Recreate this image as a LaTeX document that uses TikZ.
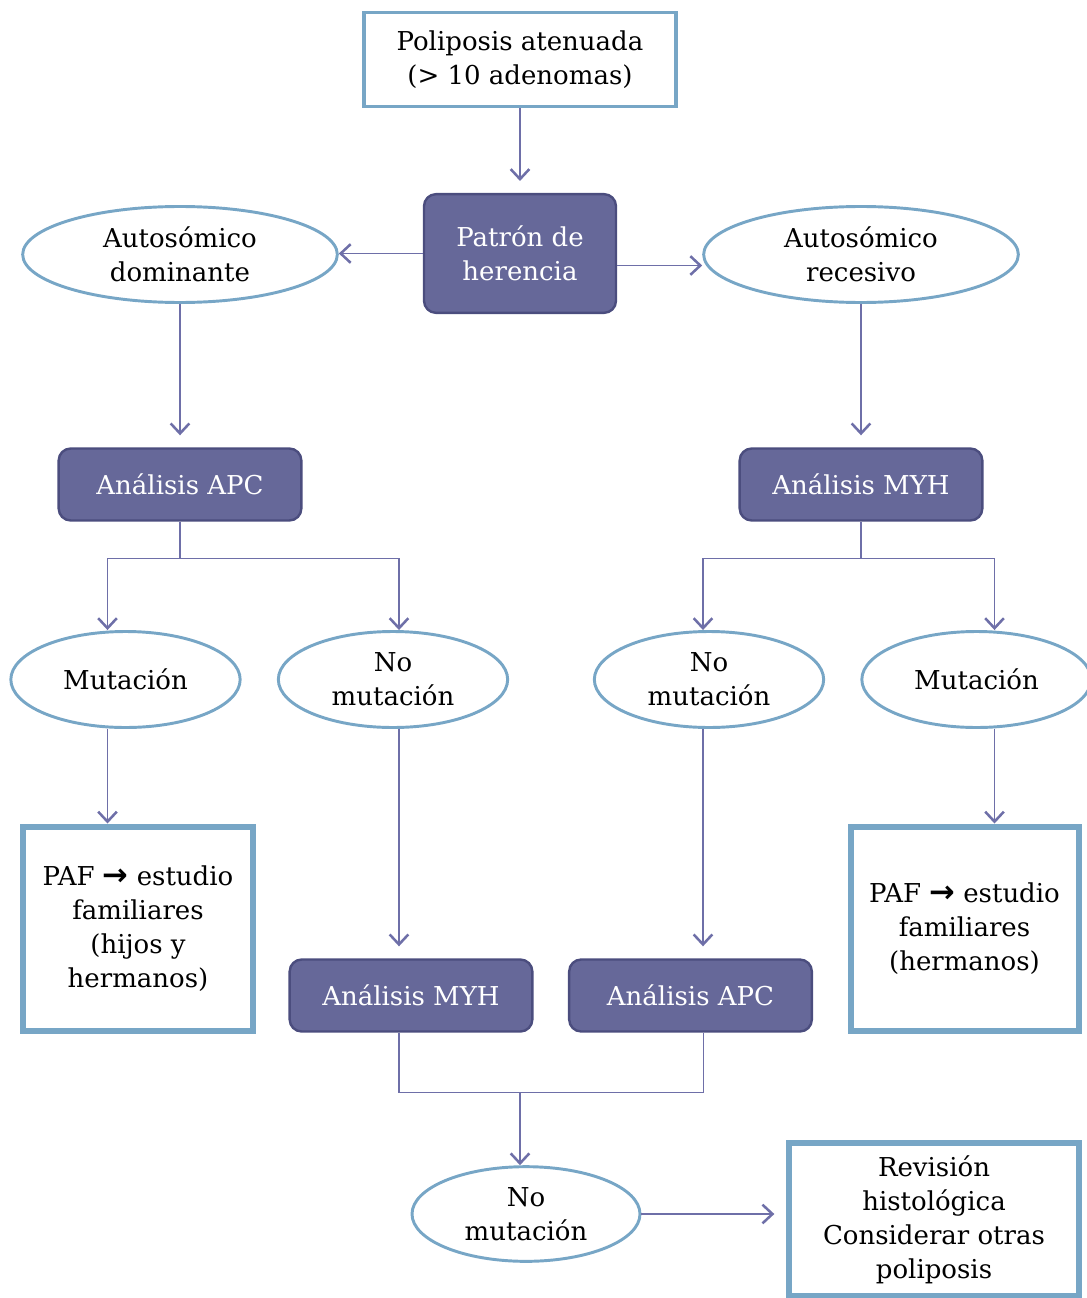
\documentclass[tikz,border=0pt]{standalone}
\usepackage{fontspec}
\setmainfont{DejaVu Serif}
\newfontfamily\arrowfont{DejaVu Sans}
\usetikzlibrary{arrows.meta,shapes.geometric}

\definecolor{edgeblue}{RGB}{119,166,198}
\definecolor{boxfill}{RGB}{102,104,153}
\definecolor{boxedge}{RGB}{75,77,126}
\definecolor{linkcol}{RGB}{110,111,168}

\newcommand{\boldarrow}{{\arrowfont\bfseries\fontsize{23}{25.5}\selectfont →}}

\tikzset{
  txt/.style={font=\fontsize{19.5}{25.5}\selectfont, align=center, inner sep=0pt},
  plainbox/.style={txt, rectangle, draw=edgeblue, line width=2.4pt, fill=white},
  thickbox/.style={txt, rectangle, draw=edgeblue, line width=4.5pt, fill=white},
  darkbox/.style={txt, rectangle, rounded corners=9pt, draw=boxedge, line width=1.8pt,
    fill=boxfill, text=white},
  oval/.style={txt, ellipse, draw=edgeblue, line width=2.2pt, fill=white},
  link/.style={draw=linkcol, line width=1.15pt},
  conn/.style={link, -{Straight Barb[length=7.5pt,width=14pt,line width=1.9pt]}},
  gap/.style={shorten >=9pt}
}

\begin{document}
\begin{tikzpicture}[x=0.75pt,y=-0.75pt]
\useasboundingbox (0,0) rectangle (1086,1298);

% nodes
\node[plainbox, minimum width=234pt, minimum height=71pt] (top) at (520,59.5)
  {Poliposis atenuada\\(> 10 adenomas)};
\node[darkbox, minimum width=144pt, minimum height=89pt] (pat) at (520,253.5)
  {Patrón de\\herencia};
\node[oval, minimum width=236pt, minimum height=72pt] (ad) at (180,254.5)
  {Autosómico\\dominante};
\node[oval, minimum width=236pt, minimum height=72pt] (ar) at (861,254.5)
  {Autosómico\\recesivo};
\node[darkbox, minimum width=182pt, minimum height=54pt] (apcA) at (180,484.5)
  {Análisis APC};
\node[darkbox, minimum width=182pt, minimum height=54pt] (myhA) at (861,484.5)
  {Análisis MYH};
\node[oval, minimum width=172pt, minimum height=72pt] (mutL) at (125.5,679.5)
  {Mutación};
\node[oval, minimum width=172pt, minimum height=72pt] (nmL) at (393,679.5)
  {No\\mutación};
\node[oval, minimum width=172pt, minimum height=72pt] (nmR) at (709,679.5)
  {No\\mutación};
\node[oval, minimum width=172pt, minimum height=72pt] (mutR) at (976.5,679.5)
  {Mutación};
\node[thickbox, minimum width=172pt, minimum height=153pt] (pafL) at (138,928.5)
  {PAF \boldarrow{} estudio\\familiares\\(hijos y\\hermanos)};
\node[thickbox, minimum width=171pt, minimum height=153pt] (pafR) at (964.5,928.5)
  {PAF \boldarrow{} estudio\\familiares\\(hermanos)};
\node[darkbox, minimum width=182pt, minimum height=54pt] (myhB) at (411,995.5)
  {Análisis MYH};
\node[darkbox, minimum width=182pt, minimum height=54pt] (apcB) at (690.5,995.5)
  {Análisis APC};
\node[oval, minimum width=171pt, minimum height=71pt] (nmB) at (526,1214)
  {No\\mutación};
\node[thickbox, minimum width=217pt, minimum height=115pt] (rev) at (934,1219.5)
  {Revisión\\histológica\\Considerar otras\\poliposis};

% connectors
\draw[conn, gap] (top.south) -- (pat.north);
\draw[conn] (pat.west) -- (pat.west -| ad.east);
\path (pat.east) ++(0,12) coordinate (patR);
\draw[conn] (patR) -- (patR -| ar.west);
\draw[conn, gap] (ad.south) -- (apcA.north);
\draw[conn, gap] (ar.south) -- (myhA.north);

\path (apcA.south) ++(0,37) coordinate (splitL);
\draw[conn] (apcA.south) -- (splitL) -| ([xshift=-13.5pt]mutL.north);
\draw[conn] (splitL) -| ([xshift=4.5pt]nmL.north);
\path (myhA.south) ++(0,37) coordinate (splitR);
\draw[conn] (myhA.south) -- (splitR) -| ([xshift=-4.5pt]nmR.north);
\draw[conn] (splitR) -| ([xshift=13.5pt]mutR.north);

\draw[conn] ([xshift=-13.5pt]mutL.south) -- ([xshift=-13.5pt]mutL.south |- pafL.north);
\draw[conn, gap] ([xshift=4.5pt]nmL.south) -- ([xshift=4.5pt]nmL.south |- myhB.north);
\draw[conn, gap] ([xshift=-4.5pt]nmR.south) -- ([xshift=-4.5pt]nmR.south |- apcB.north);
\draw[conn] ([xshift=13.5pt]mutR.south) -- ([xshift=13.5pt]mutR.south |- pafR.north);

\path ([xshift=-9pt]myhB.south) ++(0,60) coordinate (joinL);
\draw[link] ([xshift=-9pt]myhB.south) -- (joinL) -| ([xshift=9.75pt]apcB.south);
\coordinate (joinM) at (520,1092);
\draw[conn] (joinM) -- (joinM |- nmB.north);
\draw[conn, gap] (nmB.east) -- (nmB.east -| rev.west);
\end{tikzpicture}
\end{document}
